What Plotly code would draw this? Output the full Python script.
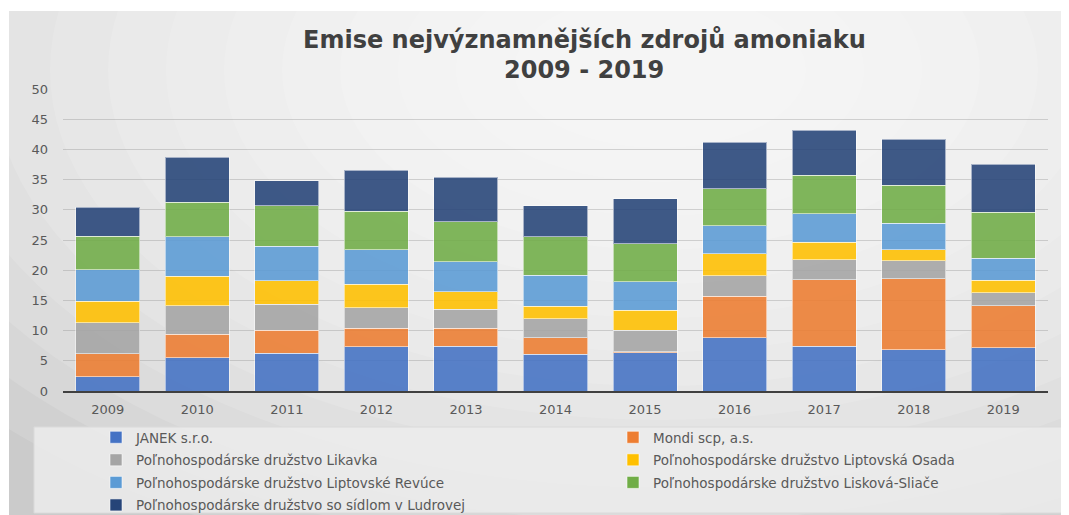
import plotly.graph_objects as go

years = ["2009", "2010", "2011", "2012", "2013", "2014", "2015", "2016", "2017", "2018", "2019"]

janek = [2.4, 5.5, 6.25, 7.3, 7.45, 6.1, 6.3, 8.8, 7.45, 6.8, 7.15]
mondi = [3.8, 3.9, 3.85, 3.05, 2.9, 2.7, 0.2, 6.9, 11.0, 11.8, 7.0]
likavka = [5.1, 4.7, 4.3, 3.45, 3.15, 3.15, 3.55, 3.4, 3.25, 2.95, 2.1]
osada = [3.6, 4.9, 3.85, 3.9, 2.9, 2.1, 3.35, 3.6, 2.95, 1.8, 2.1]
revuce = [5.2, 6.5, 5.7, 5.65, 5.0, 5.15, 4.7, 4.7, 4.7, 4.45, 3.6]
sliace = [5.5, 5.75, 6.7, 6.4, 6.6, 6.3, 6.3, 6.05, 6.35, 6.3, 7.65]
ludrovej = [4.8, 7.45, 4.15, 6.8, 7.35, 5.15, 7.4, 7.7, 7.5, 7.55, 7.95]

series_names = [
    "JANEK s.r.o.",
    "Mondi scp, a.s.",
    "Poľnohospodárske družstvo Likavka",
    "Poľnohospodárske družstvo Liptovská Osada",
    "Poľnohospodárske družstvo Liptovské Revúce",
    "Poľnohospodárske družstvo Lisková-Sliače",
    "Poľnohospodárske družstvo so sídlom v Ludrovej",
]
series_values = [janek, mondi, likavka, osada, revuce, sliace, ludrovej]
colors = ["#4472C4", "#ED7D31", "#A5A5A5", "#FFC000", "#5B9BD5", "#70AD47", "#264478"]
legend_ids = ["legend", "legend2", "legend", "legend2", "legend", "legend2", "legend"]

title_lines = ["Emise nejvýznamnějších zdrojů amoniaku", "2009 - 2019"]

# page has an 8px body margin: figure is shrunk accordingly
OFF = 8
W, H = 1069 - OFF, 515 - OFF
L, R, T, B = 55, 21, 81, 124
PW, PH = W - L - R, H - T - B


def px_x(p):  # page pixel -> paper x
    return (p - OFF - L) / PW


def px_y(p):  # page pixel -> paper y
    return (H - B - (p - OFF)) / PH


fig = go.Figure()
for i, (name, vals, col, lg) in enumerate(zip(series_names, series_values, colors, legend_ids)):
    fig.add_trace(go.Bar(
        x=years, y=vals, name=name,
        marker=dict(color=col, opacity=0.88, line=dict(color="rgba(255,255,255,0.55)", width=1)),
        legend=lg, legendgroup="g%d" % i,
    ))

shapes = []
# chart background area with radial-ish gradient
shapes.append(dict(type="rect", xref="paper", yref="paper", layer="below",
                   x0=px_x(9), x1=px_x(1080), y0=px_y(530), y1=px_y(11),
                   fillcolor="#cbcbcb", line=dict(width=0)))
cx, cy = 660, 70
for k in range(14):
    rx = 900 - k * 58
    ry = 520 - k * 34
    shapes.append(dict(type="circle", xref="paper", yref="paper", layer="below",
                       x0=px_x(cx - rx), x1=px_x(cx + rx), y0=px_y(cy + ry), y1=px_y(cy - ry),
                       fillcolor="rgba(255,255,255,0.13)", line=dict(width=0)))
# white outside the chart frame (top and left)
shapes.append(dict(type="rect", xref="paper", yref="paper", layer="below",
                   x0=px_x(-5), x1=px_x(1080), y0=px_y(11), y1=px_y(-5),
                   fillcolor="white", line=dict(width=0)))
shapes.append(dict(type="rect", xref="paper", yref="paper", layer="below",
                   x0=px_x(-5), x1=px_x(9), y0=px_y(530), y1=px_y(-5),
                   fillcolor="white", line=dict(width=0)))
# legend box
shapes.append(dict(type="rect", xref="paper", yref="paper", layer="below",
                   x0=px_x(34), x1=px_x(1064), y0=px_y(513), y1=px_y(427),
                   fillcolor="rgba(236,236,236,0.85)", line=dict(color="#dadada", width=1)))

font_family = "DejaVu Sans, Open Sans, sans-serif"

annotations = []
for line, ypx in zip(title_lines, [40, 70]):
    annotations.append(dict(
        text="<b>%s</b>" % line, xref="paper", yref="paper",
        x=px_x(584), y=px_y(ypx), xanchor="center", yanchor="middle",
        showarrow=False, font=dict(family=font_family, size=24, color="#404040"),
    ))

fig.update_layout(
    width=W, height=H,
    margin=dict(l=L, r=R, t=T, b=B, autoexpand=False),
    paper_bgcolor="white",
    plot_bgcolor="rgba(0,0,0,0)",
    barmode="stack",
    bargap=0.285,
    shapes=shapes,
    annotations=annotations,
    font=dict(family=font_family, size=13, color="#595959"),
    xaxis=dict(
        showgrid=False, showline=True, linecolor="#404040", linewidth=2,
        ticks="", tickfont=dict(size=13, color="#595959"), ticklabelstandoff=5,
    ),
    yaxis=dict(
        range=[0, 50], dtick=5, showgrid=True, gridcolor="rgba(140,140,140,0.35)", gridwidth=1,
        zeroline=False, showline=False, ticks="",
        tickfont=dict(size=13, color="#595959"), ticklabelstandoff=14,
    ),
    legend=dict(
        x=px_x(96), xanchor="left", y=px_y(422), yanchor="top",
        bgcolor="rgba(0,0,0,0)", traceorder="grouped", tracegroupgap=2,
        font=dict(family=font_family, size=13.5, color="#595959"),
    ),
    legend2=dict(
        x=px_x(613), xanchor="left", y=px_y(422), yanchor="top",
        bgcolor="rgba(0,0,0,0)", traceorder="grouped", tracegroupgap=2,
        font=dict(family=font_family, size=13.5, color="#595959"),
    ),
)

fig.write_html("out.html")
